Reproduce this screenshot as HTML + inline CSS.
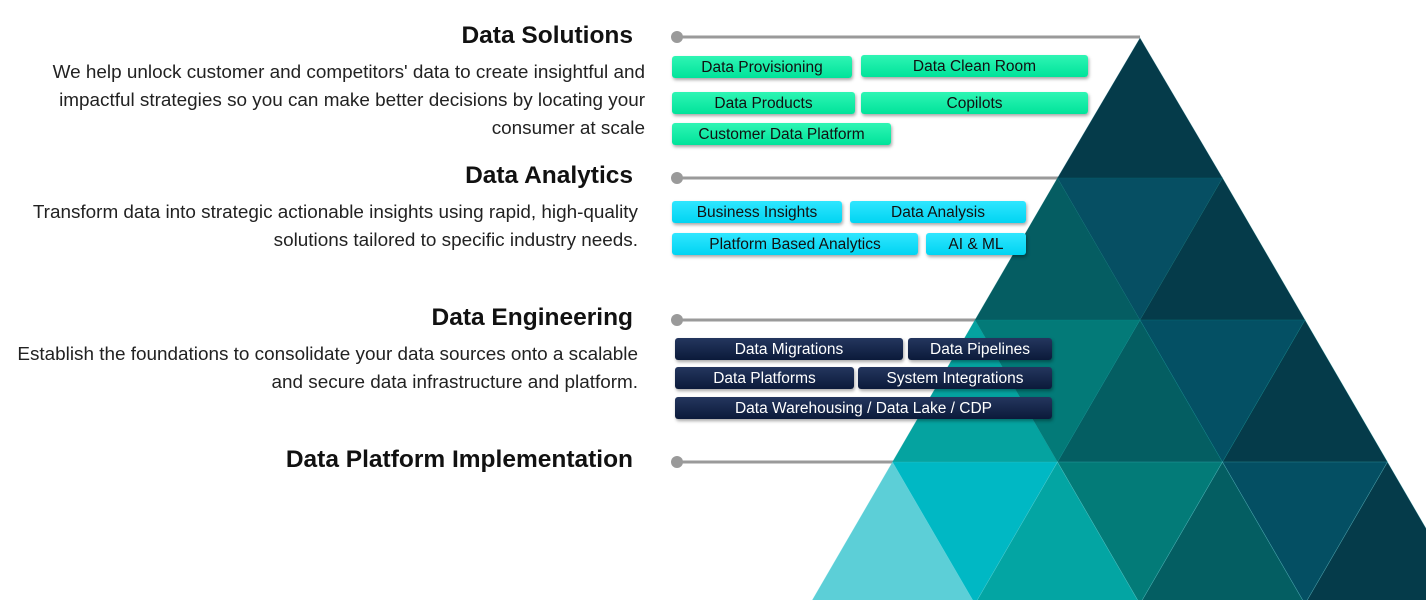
<!DOCTYPE html>
<html><head><meta charset="utf-8"><style>
body{margin:0;width:1426px;height:600px;background:#fff;position:relative;overflow:hidden;font-family:"Liberation Sans",Arial,sans-serif}
svg{position:absolute;left:0;top:0}
.h{position:absolute;right:793px;font-weight:bold;font-size:24.5px;color:#111;white-space:nowrap;line-height:28px}
.t{position:absolute;font-size:18.9px;color:#222;white-space:nowrap;line-height:28px;text-align:right}
.p{position:absolute;height:22px;line-height:24px;font-size:15.5px;text-align:center;border-radius:3px;box-shadow:1px 2px 3px rgba(0,0,0,.35);white-space:nowrap}
.g{background:linear-gradient(#2ff5b4,#00e39a);color:#111}
.c{background:linear-gradient(#30e6ff,#00d4f2);color:#111}
.d{background:linear-gradient(#24365e,#0b1a3a);color:#fff}
</style></head><body>
<svg width="1426" height="600">
<g stroke="#9a9a9a" stroke-width="3" fill="#9a9a9a">
<line x1="677" y1="37" x2="1140" y2="37"/><circle cx="677" cy="37" r="6" stroke="none"/>
<line x1="677" y1="178" x2="1060" y2="178"/><circle cx="677" cy="178" r="6" stroke="none"/>
<line x1="677" y1="320" x2="978" y2="320"/><circle cx="677" cy="320" r="6" stroke="none"/>
<line x1="677" y1="462" x2="895" y2="462"/><circle cx="677" cy="462" r="6" stroke="none"/>
</g>
<g stroke-width="0.6" stroke-opacity="0.35">
<polygon points="1140,38 1057.5,178 1222.5,178" fill="#053b4a" stroke="#0a6a7a"/>
<polygon points="1057.5,178 975,320 1140,320" fill="#055d62" stroke="#0a7a7a"/>
<polygon points="1057.5,178 1222.5,178 1140,320" fill="#064f63" stroke="#0a7a7a"/>
<polygon points="1222.5,178 1140,320 1305,320" fill="#053b4a" stroke="#0a7a7a"/>
<polygon points="975,320 892.5,462 1057.5,462" fill="#05a3a0" stroke="#0a9a9a"/>
<polygon points="975,320 1140,320 1057.5,462" fill="#037a78" stroke="#0a9a9a"/>
<polygon points="1140,320 1057.5,462 1222.5,462" fill="#045e62" stroke="#0a9a9a"/>
<polygon points="1140,320 1305,320 1222.5,462" fill="#045064" stroke="#0a9a9a"/>
<polygon points="1305,320 1222.5,462 1387.5,462" fill="#053b4a" stroke="#0a9a9a"/>
<polygon points="892.5,462 810,604 975,604" fill="#5ccfd7" stroke="#6fdde3"/>
<polygon points="892.5,462 1057.5,462 975,604" fill="#00b8c4" stroke="#6fdde3"/>
<polygon points="1057.5,462 975,604 1140,604" fill="#03a5a3" stroke="#6fdde3"/>
<polygon points="1057.5,462 1222.5,462 1140,604" fill="#037b78" stroke="#6fdde3"/>
<polygon points="1222.5,462 1140,604 1305,604" fill="#045e62" stroke="#6fdde3"/>
<polygon points="1222.5,462 1387.5,462 1305,604" fill="#044f63" stroke="#6fdde3"/>
<polygon points="1387.5,462 1305,604 1470,604" fill="#053b4a" stroke="#6fdde3"/>
</g>
</svg>

<div class="h" style="top:22px">Data Solutions</div>
<div class="t" style="right:781px;top:59px">We help unlock customer and competitors' data to create insightful and</div>
<div class="t" style="right:781px;top:87px">impactful strategies so you can make better decisions by locating your</div>
<div class="t" style="right:781px;top:115px">consumer at scale</div>

<div class="h" style="top:162px">Data Analytics</div>
<div class="t" style="right:788px;top:199px">Transform data into strategic actionable insights using rapid, high-quality</div>
<div class="t" style="right:788px;top:227px">solutions tailored to specific industry needs.</div>

<div class="h" style="top:304px">Data Engineering</div>
<div class="t" style="right:788px;top:341px">Establish the foundations to consolidate your data sources onto a scalable</div>
<div class="t" style="right:788px;top:369px">and secure data infrastructure and platform.</div>

<div class="h" style="top:446px">Data Platform Implementation</div>

<div class="p g" style="left:672px;top:56px;width:180px">Data Provisioning</div>
<div class="p g" style="left:861px;top:55px;width:227px">Data Clean Room</div>
<div class="p g" style="left:672px;top:92px;width:183px">Data Products</div>
<div class="p g" style="left:861px;top:92px;width:227px">Copilots</div>
<div class="p g" style="left:672px;top:123px;width:219px">Customer Data Platform</div>

<div class="p c" style="left:672px;top:201px;width:170px">Business Insights</div>
<div class="p c" style="left:850px;top:201px;width:176px">Data Analysis</div>
<div class="p c" style="left:672px;top:233px;width:246px">Platform Based Analytics</div>
<div class="p c" style="left:926px;top:233px;width:100px">AI &amp; ML</div>

<div class="p d" style="left:675px;top:338px;width:228px">Data Migrations</div>
<div class="p d" style="left:908px;top:338px;width:144px">Data Pipelines</div>
<div class="p d" style="left:675px;top:367px;width:179px">Data Platforms</div>
<div class="p d" style="left:858px;top:367px;width:194px">System Integrations</div>
<div class="p d" style="left:675px;top:397px;width:377px">Data Warehousing / Data Lake / CDP</div>
</body></html>
